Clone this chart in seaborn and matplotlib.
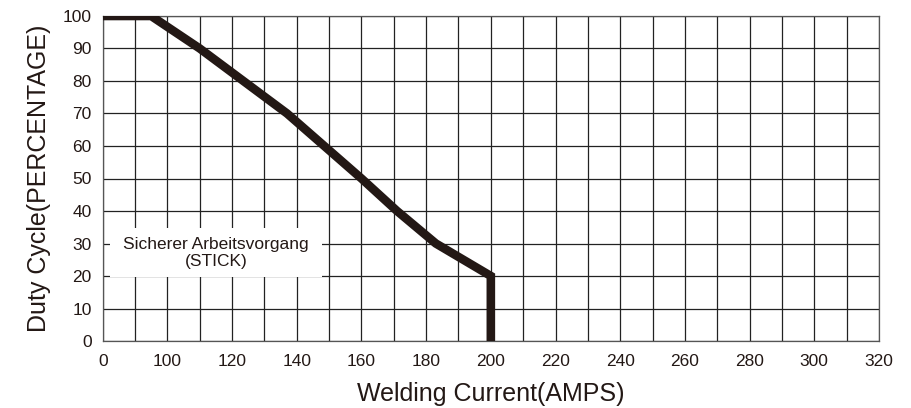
import pandas as pd
import matplotlib.pyplot as plt
import seaborn as sns
from matplotlib.patches import Rectangle

# duty cycle curve (x axis is broken: the first grid line, labelled "0", stands for 80 A)
current = [80, 95, 110, 137, 160, 171, 183, 200, 200]
duty = [100, 100, 90, 70, 50, 40, 30, 20, 0]

x_ticks = list(range(80, 321, 10))
x_label_pos = [80] + list(range(100, 321, 20))
x_label_txt = ['0'] + [str(v) for v in range(100, 321, 20)]
y_ticks = list(range(0, 101, 10))

INK = '#231815'

sns.set_style('white')
plt.rcParams['font.family'] = ['Liberation Sans', 'DejaVu Sans']

df = pd.DataFrame({'current': current, 'duty': duty})

fig = plt.figure(figsize=(9.12, 4.08), dpi=100)
ax = fig.add_axes([0.1126, 0.1642, 0.8512, 0.7966])

# grid
for x in x_ticks:
    ax.axvline(x, color='#222222', lw=0.9, zorder=1)
for y in y_ticks:
    ax.axhline(y, color='#222222', lw=0.9, zorder=1)

# white box behind the label
ax.add_patch(Rectangle((82.3, 19.6), 65.5, 15.2, facecolor='white',
                       edgecolor='none', zorder=2))
ax.text(115, 27.0, 'Sicherer Arbeitsvorgang\n(STICK)', ha='center', va='center',
        fontsize=12.5, color=INK, zorder=3, linespacing=1.15)

sns.lineplot(data=df, x='current', y='duty', sort=False, estimator=None,
             color=INK, lw=6.2, ax=ax, zorder=4, solid_capstyle='butt',
             solid_joinstyle='miter')

ax.set_xlim(80, 320)
ax.set_ylim(0, 100)
ax.set_xticks(x_label_pos)
ax.set_xticklabels(x_label_txt)
ax.set_xticks([v for v in x_ticks if v not in x_label_pos], minor=True)
ax.tick_params(axis='x', which='both', length=7, width=0.9, color='#555555',
               direction='out', labelsize=12.5, labelcolor=INK, pad=2)
ax.set_yticks(y_ticks)
ax.tick_params(axis='y', length=7, width=0.9, color='#555555', labelsize=12.5,
               labelcolor=INK, pad=1)

for s in ax.spines.values():
    s.set_color('#555555')
    s.set_linewidth(0.9)

ax.set_xlabel('Welding Current(AMPS)', fontsize=18, color=INK, labelpad=10)
ax.set_ylabel('Duty Cycle(PERCENTAGE)', fontsize=18, color=INK, labelpad=8)

fig.savefig('out.png', dpi=100)
